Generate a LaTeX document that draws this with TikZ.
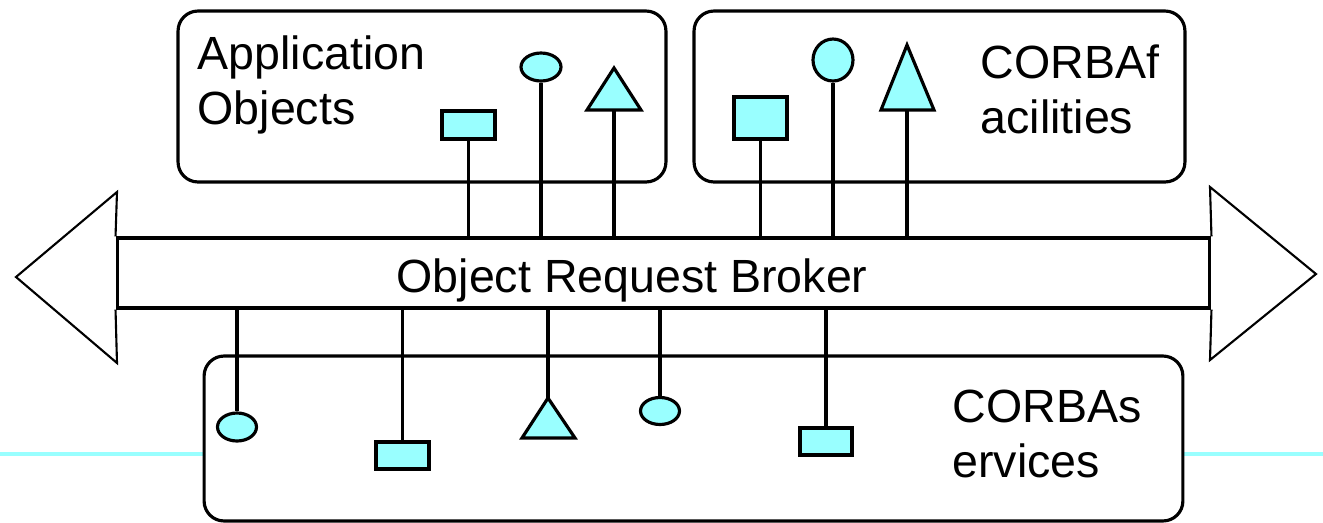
\documentclass[tikz,border=0pt]{standalone}
\usepackage{fontspec}
\setmainfont{Liberation Sans}
\usepackage{tikz}
\usetikzlibrary{shapes.geometric}
\definecolor{pale cyan}{rgb}{0.6, 1, 1}

\begin{document}
\begin{tikzpicture}[x = 0.02cm, y = -0.02cm, line width = 1.8pt,
		box/.style = {draw, rounded corners = 0.4cm},
		obj/.style = {draw, fill = pale cyan, inner sep = 0pt},
		word/.style = {inner sep = 0pt, align = left, anchor = north west,
			font = \fontsize{26.5}{31.3}\selectfont}]
			\useasboundingbox (0, 0) rectangle (1323, 522);
			% guide line
			\draw[pale cyan, line width = 1.8pt] 
				(0, 454) -- (204, 454) 
				(1183, 454) -- (1323, 454);
			% boxes
			\node[box, minimum width = 9.76cm, minimum height = 3.42cm] (apps) at (422, 96.5) {};
			\node[box, minimum width = 9.82cm, minimum height = 3.42cm] (facil) at (939.5, 96.5) {};
			\node[box, minimum width = 19.58cm, minimum height = 3.3cm] (servs) at (693.5, 438.5) {};
			\node[word] (apptext) at (196, 34) {Application\\Objects};
			\node[word] (factext) at (979, 43) {CORBAf\\acilities};
			\node[word] (sertext) at (951, 388) {CORBAs\\ervices};
			% broker
			\node[draw, minimum width = 21.86cm, minimum height = 1.4cm] (bus) at (663.5, 273) {};
			\node[word, anchor = base west] (orb) at (395, 292) {Object Request Broker};
			\draw[line width = 1.2pt] 
				(bus.north west) -- (117, 192) -- (16, 277) -- (117, 363) -- (bus.south west)
				(bus.north east) -- (1210, 187) -- (1316, 274) -- (1210, 360) -- (bus.south east);
			% upper objects
			\node[obj, minimum width = 1.06cm, minimum height = 0.56cm] (a1) at (468.5, 125) {};
			\node[obj, ellipse, minimum width = 0.8cm, minimum height = 0.56cm] (a2) at (541, 67) {};
			\draw[obj] (587, 110) -- (614, 68) -- (641, 110) -- cycle;
			\coordinate (a3) at (614, 110);
			\node[obj, minimum width = 1.06cm, minimum height = 0.84cm] (f1) at (760.5, 118) {};
			\node[obj, ellipse, minimum width = 0.8cm, minimum height = 0.84cm] (f2) at (833, 60) {};
			\draw[obj] (881, 110) -- (907, 45) -- (934, 110) -- cycle;
			\coordinate (f3) at (907, 110);
			\draw 
				(a1.south) -- (a1.south |- bus.north)
				(a2.south) -- (a2.south |- bus.north)
				(a3) -- (a3 |- bus.north)
				(f1.south) -- (f1.south |- bus.north)
				(f2.south) -- (f2.south |- bus.north)
				(f3) -- (f3 |- bus.north);
			% lower objects
			\node[obj, ellipse, minimum width = 0.78cm, minimum height = 0.56cm] (s1) at (237, 427) {};
			\node[obj, minimum width = 1.06cm, minimum height = 0.54cm] (s2) at (402.5, 455.5) {};
			\draw[obj] (522, 438) -- (548, 398) -- (575, 438) -- cycle;
			\coordinate (s3) at (548, 398);
			\node[obj, ellipse, minimum width = 0.78cm, minimum height = 0.54cm] (s4) at (660, 411) {};
			\node[obj, minimum width = 1.04cm, minimum height = 0.54cm] (s5) at (826, 441.5) {};
			\draw 
				(s1.north) -- (s1.north |- bus.south)
				(s2.north) -- (s2.north |- bus.south)
				(s3) -- (s3 |- bus.south)
				(s4.north) -- (s4.north |- bus.south)
				(s5.north) -- (s5.north |- bus.south);
		\end{tikzpicture}
\end{document}
